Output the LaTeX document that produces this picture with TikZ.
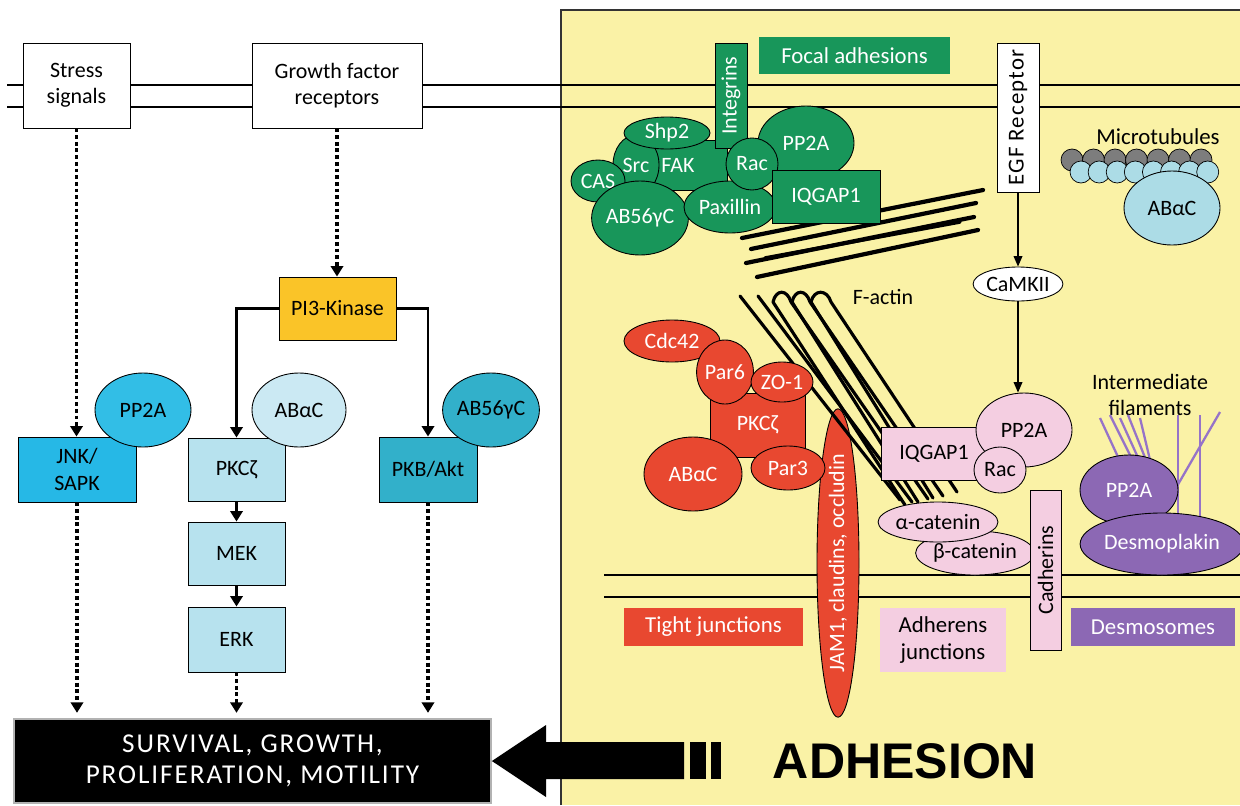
\documentclass[tikz,border=0pt]{standalone}
\usepackage{fontspec}
\setmainfont{Carlito}
\newfontfamily\bigfont{Liberation Sans}
\newfontfamily\spacedfont{Carlito}[LetterSpace=7]
\newfontfamily\egffont{Carlito}[LetterSpace=5]
\usetikzlibrary{arrows.meta,shapes.geometric}

\definecolor{panelyellow}{RGB}{250,242,166}
\definecolor{fagreen}{RGB}{24,150,90}
\definecolor{tjred}{RGB}{232,72,48}
\definecolor{ajpink}{RGB}{244,206,225}
\definecolor{dspurple}{RGB}{140,104,180}
\definecolor{ifpurple}{RGB}{150,115,200}
\definecolor{mtblue}{RGB}{172,220,230}
\definecolor{tubegray}{RGB}{125,125,125}
\definecolor{pikyellow}{RGB}{250,196,40}
\definecolor{jnkblue}{RGB}{38,184,230}
\definecolor{pptwoblue}{RGB}{50,190,230}
\definecolor{paleblue}{RGB}{183,226,238}
\definecolor{palerblue}{RGB}{203,233,243}
\definecolor{aktteal}{RGB}{50,176,202}

\tikzset{
  wh/.style 2 args={minimum width=#1*0.02cm, minimum height=#2*0.02cm},
  box/.style={draw, line width=0.5pt, inner sep=0pt, align=center, font=\fontsize{12.5}{15}\selectfont},
  blob/.style={ellipse, draw, line width=0.5pt, inner sep=0pt, align=center, font=\fontsize{12.5}{15}\selectfont},
  tag/.style={inner sep=0pt, align=center, font=\fontsize{13}{15}\selectfont},
  greenblob/.style={blob, fill=fagreen, text=white},
  redblob/.style={blob, fill=tjred, text=white},
  pinkblob/.style={blob, fill=ajpink},
  dotarrow/.style={line width=2.2pt, dash pattern=on 2.2pt off 1.6pt, -{Triangle[width=7pt,length=6pt]}},
  solidarrow/.style={line width=1.6pt, -{Triangle[width=7pt,length=6pt]}},
  thinarrow/.style={line width=0.7pt, -{Triangle[width=5pt,length=6pt]}},
  fibre/.style={line width=#1, line cap=round, line join=round},
  fibre/.default=2.4pt,
  filament/.style={line width=1.3pt, ifpurple},
}

\begin{document}
\begin{tikzpicture}[x=0.02cm, y=-0.02cm]
  \useasboundingbox (0,0) rectangle (1240,805);

  % adhesion panel
  \fill[panelyellow] (561,10) rectangle (1240,805);
  \draw[line width=0.6pt, black!80] (561,805) -- (561,10) -- (1240,10);

  % membranes
  \draw[line width=0.7pt] (7,85) -- (1240,85);
  \draw[line width=0.7pt] (7,107) -- (1240,107);
  \draw[line width=0.7pt] (604,575) -- (1240,575);
  \draw[line width=0.7pt] (604,597) -- (1240,597);

  %%% signalling side
  \node[box, wh={107}{85}, fill=white] (stress) at (76.5,85.5) {Stress\\signals};
  \node[box, wh={170}{85}, fill=white] (growth) at (337,85.5) {Growth factor\\receptors};
  \node[box, wh={117}{63}, fill=pikyellow] (pi3k) at (337.5,308.5) {PI3-Kinase};
  \node[box, wh={118}{65}, fill=jnkblue] (jnk) at (77,469.5) {JNK/\\SAPK};
  \node[blob, wh={96}{74}, fill=pptwoblue] (pp2aL) at (143,410) {PP2A};
  \node[box, wh={97}{63}, fill=paleblue] (pkcL) at (236.5,469.5) {PKCζ};
  \node[blob, wh={94}{74}, fill=palerblue] (abacL) at (299,410) {ABαC};
  \node[box, wh={98}{65}, fill=aktteal] (pkb) at (428,469.5) {PKB/Akt};
  \node[blob, wh={96}{74}, fill=aktteal] (ab56L) at (491,410) {AB56γC};
  \node[box, wh={97}{63}, fill=paleblue] (mek) at (236.5,553.5) {MEK};
  \node[box, wh={97}{65}, fill=paleblue] (erk) at (236.5,639.5) {ERK};
  \node[box, wh={477}{84}, fill=black, draw=gray!60, line width=1pt, text=white,
        font=\spacedfont\fontsize{15.5}{17.5}\selectfont] (fate) at (252.5,761)
        {SURVIVAL, GROWTH,\\PROLIFERATION, MOTILITY};

  \draw[dotarrow] (stress.south) -- (stress.south |- jnk.north);
  \draw[dotarrow] (growth.south) -- (growth.south |- pi3k.north);
  \draw[solidarrow] (pi3k.west) -| (pkcL.north);
  \draw[solidarrow] (pi3k.east) -| (pkb.north);
  \draw[solidarrow] (pkcL) -- (mek);
  \draw[solidarrow] (mek) -- (erk);
  \draw[dotarrow, shorten >=3pt] (jnk.south) -- (jnk.south |- fate.north);
  \draw[dotarrow, shorten >=3pt] (erk.south) -- (erk.south |- fate.north);
  \draw[dotarrow, shorten >=3pt] (pkb.south) -- (pkb.south |- fate.north);

  % big arrow
  \fill (fate.east) -- (546,725) -- (546,742) -- (684,742) -- (684,779)
        -- (546,779) -- (546,797) -- cycle;
  \fill (690,742) rectangle (706,779);
  \fill (711,742) rectangle (721,779);
  \node[font=\bigfont\bfseries\fontsize{28.5}{30}\selectfont] (adhesion) at (905,761) {ADHESION};

  %%% focal adhesions
  \draw[fibre] (742,238) -- (983,190);
  \draw[fibre] (751,249) -- (976,203);
  \draw[fibre] (746,263) -- (974,217);
  \draw[fibre] (757,277) -- (978,230);
  \draw[fibre=2pt] (765,258) -- (960,222);
  \node[box, wh={74}{50}, draw=black, fill=fagreen, text=white] (fak) at (690,165) {FAK\hspace*{1.1em}};
  \node[greenblob, wh={46}{60}] (src) at (636,165) {Src};
  \node[greenblob, wh={86}{32}] (shp2) at (667,133) {Shp2};
  \node[greenblob, wh={54}{42}] (cas) at (598,181) {CAS};
  \node[greenblob, wh={96}{74}] (ab56R) at (640,218) {AB56γC};
  \node[greenblob, wh={92}{52}] (paxillin) at (730,207) {Paxillin};
  \node[box, rotate=90, wh={105}{32}, fill=fagreen, text=white] (integrins) at (731,95.5) {Integrins};
  \node[greenblob, wh={96}{74}] (pp2aG) at (806,143) {PP2A};
  \node[greenblob, wh={52}{52}] (racG) at (752,164) {Rac};
  \node[box, wh={108}{53}, fill=fagreen, text=white] (iqgapG) at (826,196.5) {IQGAP1};
  \node[tag, wh={191}{37}, fill=fagreen, text=white] (focal) at (854.5,55.5) {Focal adhesions};

  %%% EGF receptor
  \node[box, rotate=90, wh={149}{42}, fill=white, font=\egffont\fontsize{13}{15}\selectfont] (egf) at (1018,117.5) {EGF Receptor};
  \node[blob, wh={84}{34}, fill=white] (camk) at (1018,284) {CaMKII};

  %%% microtubules
  \node[tag] (mtlabel) at (1158,137) {Microtubules};
  \foreach \i in {0,...,6}
    \draw[line width=0.4pt, fill=tubegray] ({1072+21.5*\i},160) circle (11);
  \foreach \i in {0,...,7}
    \draw[line width=0.4pt, fill=mtblue] ({1081+18.1*\i},172) circle (11);
  \node[blob, wh={96}{74}, fill=mtblue] (abacM) at (1172,208) {ABαC};

  %%% tight junctions
  \node[redblob, rotate=90, wh={300}{42}] (jam) at (838,563) {JAM1, claudins, occludin};
  % F-actin
  \draw[fibre=1.8pt] (740,296) -- (900,500);
  \draw[fibre=1.8pt] (758,296) -- (912,502);
  \draw[fibre=1.8pt] (905,505) -- (773,302) .. controls (776,289) and (787,289) .. (791,302) -- (928,499);
  \draw[fibre=1.8pt] (918,502) -- (792,302) .. controls (795,289) and (806,289) .. (810,302) -- (943,496);
  \draw[fibre=1.8pt] (933,498) -- (811,302) .. controls (814,289) and (827,289) .. (831,302) -- (957,492);
  \node[tag, font=\fontsize{12.5}{15}\selectfont] (factin) at (883,297) {F-actin};
  \node[box, wh={95}{64}, fill=tjred, text=white] (pkcR) at (757.5,425) {PKCζ};
  \node[redblob, wh={96}{42}] (cdc42) at (672,341) {Cdc42};
  \node[redblob, wh={52}{64}] (par6) at (725,372) {Par6};
  \node[redblob, wh={62}{40}] (zo1) at (782,382) {ZO-1};
  \node[redblob, wh={98}{74}] (abacR) at (693,474) {ABαC};
  \node[redblob, wh={74}{44}] (par3) at (788,468) {Par3};

  %%% adherens junctions
  \node[box, wh={106}{53}, fill=ajpink] (iqgapP) at (934,453.5) {IQGAP1};
  \node[pinkblob, wh={96}{74}] (pp2aP) at (1024,430) {PP2A};
  \node[pinkblob, wh={52}{46}] (racP) at (1000,470) {Rac};
  \node[pinkblob, wh={106}{44}] (bcat) at (975,553) {β-catenin};
  \node[pinkblob, wh={116}{40}] (acat) at (938,522) {α-catenin};
  \node[box, rotate=90, wh={160}{31}, fill=ajpink] (cadherins) at (1045.5,570) {Cadherins};

  \draw[thinarrow] (egf) -- (camk);
  \draw[thinarrow] (camk.south) -- (camk.south |- pp2aP.north);

  %%% desmosomes
  \node[tag, font=\fontsize{12.5}{14.5}\selectfont] (iflabel) at (1150,395) {Intermediate\\filaments};
  \draw[filament] (1100,418) -- (1124,470);
  \draw[filament] (1110,415) -- (1135,465);
  \draw[filament] (1120,418) -- (1140,462);
  \draw[filament] (1128,415) -- (1146,460);
  \draw[filament] (1140,418) -- (1150,460);
  \draw[filament] (1178,415) -- (1178,520);
  \draw[filament] (1200,415) -- (1200,518);
  \draw[filament] (1220,412) -- (1162,512);
  \node[blob, wh={98}{70}, fill=dspurple, text=white] (pp2aD) at (1129,490) {PP2A};
  \node[blob, wh={136}{62}, fill=dspurple, text=white] (desmoplakin) at (1162,544) {Desmoplakin};

  % junction labels
  \node[tag, wh={179}{38}, fill=tjred, text=white] (tight) at (713.5,627) {Tight junctions};
  \node[tag, wh={126}{64}, fill=ajpink] (adherens) at (943,640) {Adherens\\junctions};
  \node[tag, wh={164}{38}, fill=dspurple, text=white] (desmo) at (1153,627) {Desmosomes};
\end{tikzpicture}
\end{document}
